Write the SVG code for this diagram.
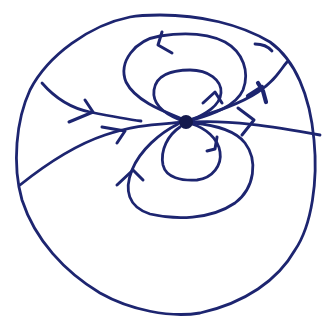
<svg xmlns="http://www.w3.org/2000/svg" width="327" height="327" viewBox="0 0 327 327">
<style>
.s{fill:none;stroke:#1d2570;stroke-width:2.8;stroke-linecap:round;stroke-linejoin:round}
.a{fill:none;stroke:#1d2570;stroke-width:3;stroke-linecap:round;stroke-linejoin:round}
</style>
<rect width="327" height="327" fill="#ffffff"/>
<g id="boundary">
<path class="s" d="M160,15 C200,15 240,24 270,42 C295,60 310,95 314,140 C318,180 312,225 295,250 C278,280 245,303 200,313 C170,318 130,310 100,293 C65,272 35,240 22,200 C12,165 16,120 30,90 C48,55 90,25 130,17 C140,15 150,15 160,15 Z"/>
<path class="s" d="M255,44 Q266,44 272,51"/>
</g>
<g id="connectors">
<path class="s" d="M42,83 C55,98 70,108 90,112 S125,119 141,121"/>
<path class="a" d="M85,100 L93,112 L69,122"/>
<path class="s" d="M20,185 C45,165 75,145 105,135 S150,125 185,122"/>
<path class="a" d="M102,127 L125,131 L117,143"/>
<path class="s" d="M192,119 C215,112 240,104 258,92 S280,70 287,62"/>
<path d="M248,96 L262,87 M258,83 L263,91 L266,102" fill="none" stroke="#1d2570" stroke-width="4.2" stroke-linecap="round" stroke-linejoin="round"/>
<path class="s" d="M193,122 C230,120 270,126 320,135"/>
<path class="a" d="M238,108 L254,120 L242,135"/>
<path class="s" d="M180,118 C160,110 135,100 126,82 C118,62 135,40 160,36 C180,33 205,32 225,42 C243,52 250,72 243,90 C236,106 213,114 193,120"/>
<path class="a" d="M162,32 L158,45 L172,53"/>
<path class="s" d="M180,120 C165,114 152,105 154,90 C156,75 172,70 190,70 C208,70 222,80 221,93 C220,106 205,114 192,120"/>
<path class="a" d="M203,103 L215,92 L222,103"/>
<path class="s" d="M180,127 C168,135 160,150 163,165 C166,178 182,181 197,180 C213,178 222,165 220,152 C218,138 205,128 192,124"/>
<path class="a" d="M217,137 L215,149 L207,151"/>
<path class="s" d="M178,124 C160,133 140,150 132,170 C124,190 128,207 150,214 C175,220 210,220 235,203 C255,188 258,160 245,143 C235,130 215,125 193,123"/>
<path class="a" d="M117,185 L133,170 L143,180"/>
</g>
<g id="charge">
<circle cx="186" cy="122" r="7" fill="#141a4d"/>
</g>
</svg>
